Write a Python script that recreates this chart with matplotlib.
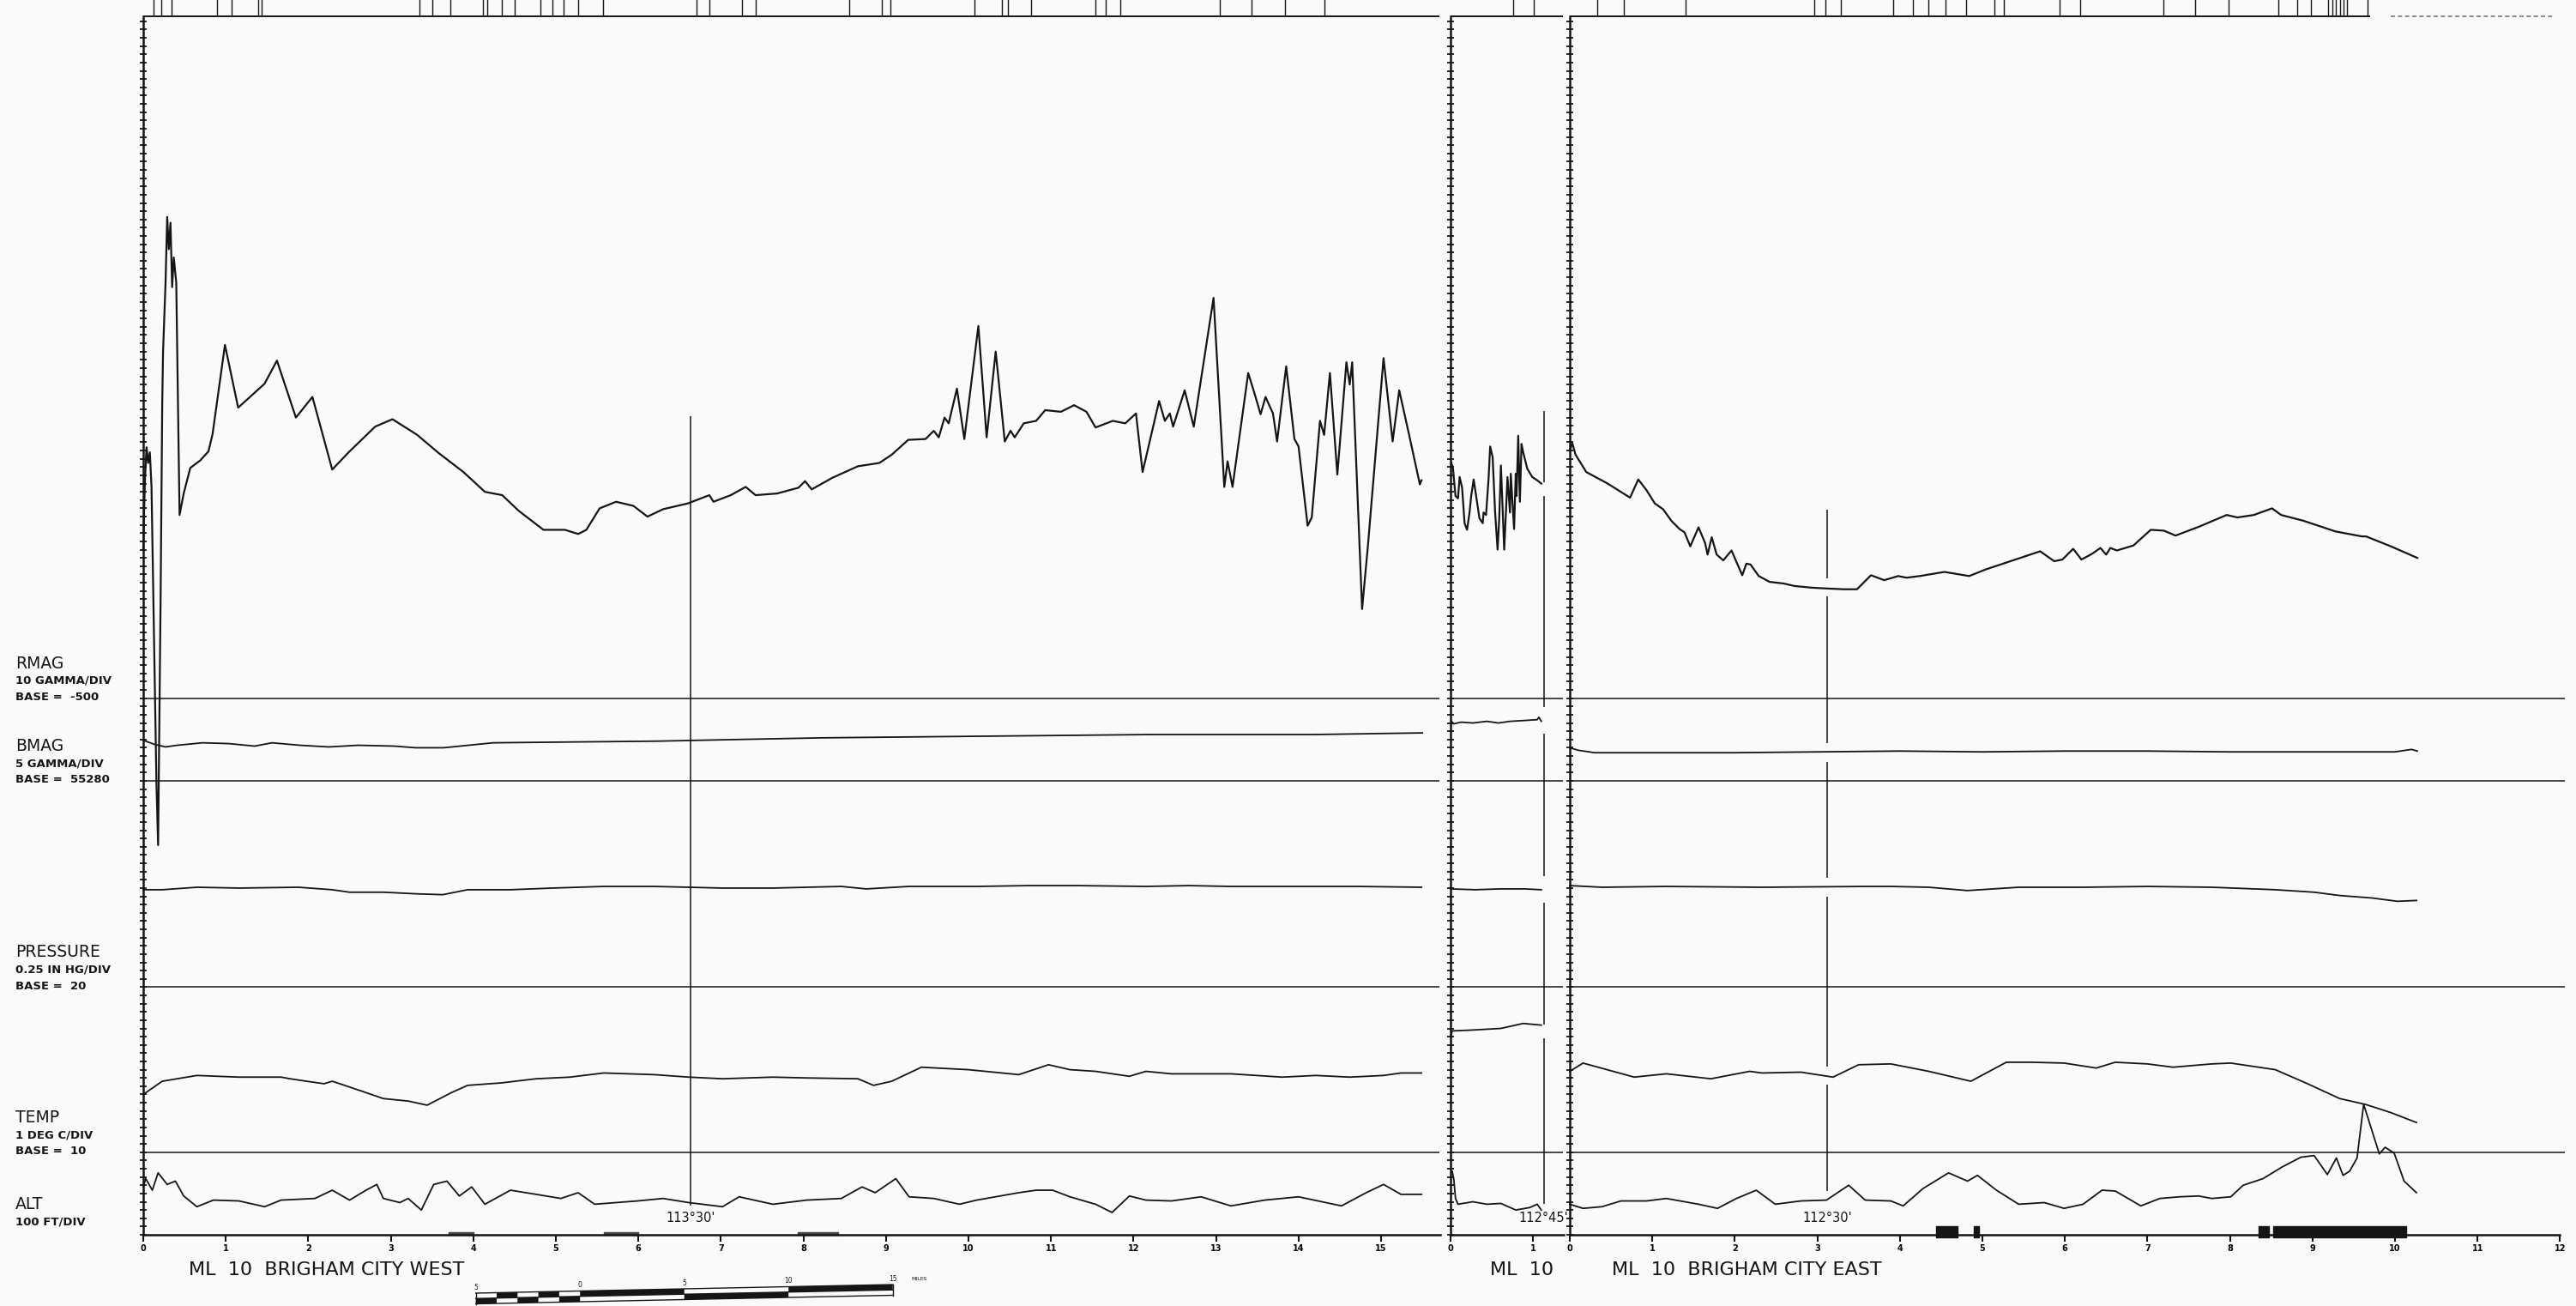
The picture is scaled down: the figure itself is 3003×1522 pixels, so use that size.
import matplotlib
matplotlib.use("Agg")
import matplotlib.pyplot as plt
import matplotlib.transforms as mtransforms
import numpy as np

# ---------------- data: miles along flight line, chart divisions above lane base ----------------
# west panel (BRIGHAM CITY WEST)
RMAG_W_MI = [0.00, 0.02, 0.04, 0.06, 0.08, 0.10, 0.16, 0.18, 0.21, 0.23, 0.24, 0.27, 0.29, 0.31, 0.33,
             0.35, 0.37, 0.40, 0.44, 0.49, 0.57, 0.69, 0.79, 0.84, 0.99, 1.15, 1.47, 1.62, 1.85, 2.05,
             2.29, 2.49, 2.81, 3.02, 3.32, 3.58, 3.88, 4.14, 4.35, 4.55, 4.85, 5.11, 5.27, 5.37, 5.53,
             5.73, 5.94, 6.11, 6.30, 6.60, 6.86, 6.91, 7.12, 7.30, 7.42, 7.68, 7.94, 8.02, 8.10, 8.35,
             8.66, 8.92, 9.07, 9.27, 9.48, 9.58, 9.64, 9.71, 9.76, 9.86, 9.95, 10.12, 10.22, 10.33, 10.44,
             10.51, 10.56, 10.67, 10.82, 10.93, 11.12, 11.28, 11.43, 11.54, 11.75, 11.90, 12.03, 12.11,
             12.31, 12.38, 12.44, 12.48, 12.62, 12.73, 12.97, 13.10, 13.14, 13.20, 13.39, 13.47, 13.54,
             13.60, 13.69, 13.74, 13.85, 13.95, 14.00, 14.11, 14.16, 14.26, 14.31, 14.38, 14.47, 14.58,
             14.62, 14.65, 14.77, 14.84, 15.03, 15.14, 15.22, 15.34, 15.47, 15.49]
RMAG_W = [18.1, 26.4, 30.4, 28.5, 29.8, 25.6, -10.4, -17.8, 11.8, 35.7, 42.0, 50.3, 58.3, 54.4, 57.6,
          49.8, 53.4, 50.3, 22.2, 24.8, 27.9, 28.8, 29.9, 32.0, 42.8, 35.2, 38.1, 40.9, 34.0, 36.5,
          27.7, 29.8, 32.9, 33.8, 31.9, 29.7, 27.4, 25.0, 24.6, 22.7, 20.4, 20.4, 19.9, 20.4, 23.0,
          23.8, 23.3, 22.0, 22.9, 23.6, 24.6, 23.8, 24.6, 25.6, 24.6, 24.8, 25.5, 26.3, 25.3, 26.7,
          28.1, 28.5, 29.5, 31.3, 31.4, 32.4, 31.6, 34.0, 33.3, 37.5, 31.4, 45.1, 31.6, 42.0, 31.1,
          32.4, 31.6, 33.3, 33.6, 34.9, 34.7, 35.5, 34.7, 32.8, 33.6, 33.3, 34.5, 27.4,
          36.0, 33.6, 34.5, 32.9, 37.3, 32.9, 48.5, 25.6, 28.7, 25.6, 39.4, 36.8, 34.4,
          36.5, 34.5, 31.1, 40.2, 31.4, 30.5, 20.9, 21.9, 33.6, 31.9, 39.4, 27.1, 40.7,
          38.0, 40.7, 10.8, 18.4, 41.2, 31.1, 37.3, 31.9, 25.9, 26.4]
BMAG_W_MI = [0.0, 0.14, 0.27, 0.41, 0.72, 1.04, 1.35, 1.56, 1.90, 2.25, 2.6, 3.04, 3.3, 3.64, 4.24,
             5.2, 6.23, 7.2, 8.22, 9.2, 10.2, 11.2, 12.2, 13.2, 14.19, 15.5]
BMAG_W = [4.9, 4.4, 4.1, 4.3, 4.6, 4.5, 4.2, 4.6, 4.3, 4.1, 4.3, 4.2, 4.0, 4.0, 4.6,
          4.7, 4.8, 5.0, 5.2, 5.3, 5.4, 5.5, 5.6, 5.6, 5.6, 5.8]
PRES_W_MI = [0.0, 0.23, 0.65, 1.16, 1.88, 2.29, 2.50, 2.91, 3.32, 3.63, 3.93, 4.45, 4.96, 5.58, 6.19,
             7.02, 7.63, 8.46, 8.76, 9.28, 10.1, 10.72, 11.33, 12.15, 12.67, 13.18, 14.21, 14.72, 15.49]
PRES_W = [11.8, 11.8, 12.1, 12.0, 12.1, 11.8, 11.5, 11.5, 11.3, 11.2, 11.8, 11.8, 12.0, 12.2, 12.2,
          12.0, 12.0, 12.2, 11.9, 12.2, 12.2, 12.3, 12.3, 12.2, 12.3, 12.2, 12.2, 12.2, 12.1]
TEMP_W_MI = [0.0, 0.23, 0.65, 1.16, 1.67, 1.78, 1.98, 2.19, 2.29, 2.50, 2.91, 3.21, 3.44, 3.73, 3.93,
             4.34, 4.76, 5.17, 5.58, 6.19, 6.61, 7.02, 7.63, 8.04, 8.66, 8.85, 9.07, 9.43, 10.0, 10.61,
             10.97, 11.23, 11.54, 11.95, 12.15, 12.46, 13.18, 13.80, 14.21, 14.62, 15.03, 15.24, 15.49]
TEMP_W = [7.0, 8.6, 9.3, 9.1, 9.1, 8.9, 8.6, 8.3, 8.6, 7.9, 6.5, 6.2, 5.7, 7.2, 8.1,
          8.4, 8.9, 9.1, 9.6, 9.4, 9.1, 8.9, 9.1, 9.0, 8.9, 8.1, 8.6, 10.3, 10.0, 9.4,
          10.6, 10.0, 9.8, 9.2, 9.8, 9.5, 9.5, 9.1, 9.3, 9.1, 9.3, 9.6, 9.6]
ALT_W_MI = [0.0, 0.03, 0.11, 0.18, 0.29, 0.39, 0.49, 0.65, 0.85, 1.16, 1.47, 1.67, 2.08, 2.29, 2.50,
            2.70, 2.83, 2.91, 3.11, 3.21, 3.37, 3.52, 3.68, 3.83, 3.98, 4.14, 4.45, 4.76, 5.06, 5.27,
            5.47, 5.99, 6.30, 6.61, 7.02, 7.22, 7.63, 8.04, 8.46, 8.71, 8.87, 9.12, 9.28, 9.58, 9.89,
            10.1, 10.61, 10.82, 11.02, 11.23, 11.54, 11.74, 11.95, 12.15, 12.46, 12.82, 13.18, 13.59,
            14.0, 14.52, 14.82, 15.03, 15.24, 15.49]
ALT_W = [5.8, 6.8, 5.4, 7.5, 6.1, 6.5, 4.7, 3.4, 4.2, 4.1, 3.4, 4.2, 4.4, 5.4, 4.2,
         5.4, 6.1, 4.4, 3.9, 4.4, 3.0, 6.1, 6.5, 4.7, 5.8, 3.7, 5.4, 4.9, 4.4, 5.1,
         3.7, 4.1, 4.4, 3.9, 3.4, 4.6, 3.7, 4.2, 4.4, 5.8, 5.1, 6.8, 4.6, 4.4, 3.7,
         4.2, 5.1, 5.4, 5.4, 4.6, 3.7, 2.7, 4.7, 4.2, 4.1, 4.6, 3.5, 4.2,
         4.6, 3.5, 5.1, 6.1, 4.9, 4.9]

# short centre panel
RMAG_C_MI = [0.01, 0.03, 0.06, 0.09, 0.11, 0.14, 0.17, 0.20, 0.23, 0.25, 0.28, 0.31, 0.35, 0.39, 0.40,
             0.43, 0.46, 0.48, 0.51, 0.54, 0.57, 0.59, 0.61, 0.63, 0.65, 0.68, 0.69, 0.72, 0.73, 0.75,
             0.77, 0.79, 0.80, 0.82, 0.84, 0.86, 0.88, 0.93, 0.99, 1.05, 1.10]
RMAG_C = [28.5, 27.8, 24.5, 24.2, 26.8, 25.5, 21.2, 20.4, 22.5, 24.5, 26.5, 24.5, 21.8, 21.2, 22.5,
          22.2, 26.5, 30.5, 29.2, 22.5, 18.0, 21.8, 28.2, 23.2, 18.0, 24.5, 26.8, 22.5, 27.2, 23.8,
          20.5, 27.2, 24.5, 31.8, 23.8, 30.8, 29.8, 27.8, 26.8, 26.4, 26.0]
BMAG_C_MI = [0.01, 0.04, 0.13, 0.27, 0.44, 0.58, 0.72, 0.89, 1.05, 1.07, 1.10]
BMAG_C = [7.2, 6.9, 7.1, 7.0, 7.2, 7.0, 7.2, 7.3, 7.4, 7.7, 7.2]
PRES_C_MI = [0.0, 0.3, 0.6, 0.9, 1.1]
PRES_C = [11.9, 11.8, 11.9, 11.9, 11.8]
TEMP_C_MI = [0.0, 0.02, 0.26, 0.61, 0.88, 1.10]
TEMP_C = [14.0, 14.7, 14.8, 15.0, 15.6, 15.4]
ALT_C_MI = [0.02, 0.04, 0.06, 0.09, 0.27, 0.44, 0.61, 0.79, 0.96, 1.05, 1.10]
ALT_C = [7.7, 6.7, 4.4, 3.7, 4.0, 3.7, 3.8, 3.0, 3.3, 3.7, 3.0]

# east panel (BRIGHAM CITY EAST)
RMAG_E_MI = [0.0, 0.03, 0.07, 0.20, 0.46, 0.73, 0.83, 0.93, 1.03, 1.13, 1.23, 1.33, 1.39, 1.46, 1.56,
             1.64, 1.67, 1.72, 1.78, 1.86, 1.96, 2.02, 2.09, 2.14, 2.19, 2.29, 2.42, 2.59, 2.72, 2.92,
             3.10, 3.32, 3.48, 3.65, 3.81, 3.98, 4.08, 4.24, 4.54, 4.84, 5.04, 5.37, 5.70, 5.87, 5.97,
             6.10, 6.20, 6.33, 6.43, 6.50, 6.55, 6.63, 6.83, 7.04, 7.20, 7.34, 7.63, 7.96, 8.09, 8.29,
             8.51, 8.62, 8.89, 9.28, 9.60, 9.65, 9.95, 10.27]
RMAG_E = [30.0, 30.9, 29.5, 27.4, 26.0, 24.3, 26.5, 25.2, 23.6, 22.9, 21.5, 20.5, 20.1, 18.4, 20.7,
          18.8, 17.4, 19.5, 17.4, 16.7, 17.9, 16.5, 14.9, 16.3, 16.2, 14.8, 14.1, 13.9, 13.6, 13.4,
          13.3, 13.2, 13.2, 14.9, 14.3, 14.8, 14.6, 14.8, 15.3, 14.8, 15.6, 16.7, 17.8, 16.6, 16.8,
          18.1, 16.8, 17.5, 18.2, 17.4, 18.2, 17.9, 18.5, 20.4, 20.3, 19.7, 20.8, 22.2, 21.9, 22.2,
          23.0, 22.2, 21.5, 20.2, 19.6, 19.6, 18.4, 17.0]
BMAG_E_MI = [0.0, 0.1, 0.3, 1.0, 2.0, 3.0, 4.0, 5.0, 6.0, 7.0, 8.0, 9.0, 10.0, 10.2, 10.27]
BMAG_E = [4.0, 3.7, 3.4, 3.4, 3.4, 3.5, 3.6, 3.5, 3.6, 3.6, 3.5, 3.5, 3.5, 3.8, 3.6]
PRES_E_MI = [0.0, 0.39, 1.17, 2.33, 3.58, 3.89, 4.35, 4.82, 5.44, 6.22, 7.0, 7.78, 8.55, 9.02, 9.33,
             9.72, 10.03, 10.26]
PRES_E = [12.3, 12.1, 12.2, 12.1, 12.2, 12.2, 12.1, 11.7, 12.1, 12.1, 12.2, 12.1, 11.8, 11.5, 11.1,
          10.8, 10.4, 10.5]
TEMP_E_MI = [0.0, 0.16, 0.78, 1.17, 1.71, 2.18, 2.33, 2.80, 3.19, 3.50, 3.89, 4.35, 4.86, 5.29, 5.60,
             5.99, 6.38, 6.61, 7.0, 7.31, 7.78, 8.01, 8.55, 8.94, 9.33, 9.64, 9.95, 10.26]
TEMP_E = [9.8, 10.8, 9.1, 9.5, 8.9, 9.8, 9.6, 9.7, 9.1, 10.6, 10.7, 9.8, 8.6, 10.9, 10.9,
          10.8, 10.2, 10.9, 10.7, 10.3, 10.7, 10.8, 10.0, 8.3, 6.5, 5.8, 4.8, 3.6]
ALT_E_MI = [0.0, 0.16, 0.39, 0.62, 0.93, 1.17, 1.56, 1.79, 2.02, 2.26, 2.49, 2.80, 3.11, 3.38, 3.58,
            3.89, 4.04, 4.28, 4.59, 4.82, 4.94, 5.17, 5.44, 5.75, 5.99, 6.22, 6.45, 6.61, 6.92, 7.15,
            7.39, 7.62, 7.78, 8.01, 8.16, 8.40, 8.63, 8.86, 9.02, 9.18, 9.29, 9.37, 9.45, 9.54, 9.62,
            9.81, 9.88, 9.99, 10.11, 10.26]
ALT_E = [3.7, 3.2, 3.4, 4.1, 4.1, 4.4, 3.7, 3.2, 4.4, 5.4, 3.7, 4.1, 4.2, 6.0, 4.2,
         4.1, 3.5, 5.6, 7.5, 6.5, 7.2, 5.4, 3.7, 3.9, 3.2, 3.7, 5.4, 5.3, 3.5, 4.4,
         4.6, 4.7, 4.4, 4.6, 6.0, 6.8, 8.2, 9.4, 9.6, 7.3, 9.3, 7.2, 7.7, 9.3, 15.8,
         9.8, 10.6, 9.9, 6.5, 5.1]

# fiducial event marks along the top line
EVENT_W = [0.12, 0.22, 0.34, 0.89, 1.07, 1.39, 1.43, 3.35, 3.50, 3.72, 4.12, 4.17, 4.35, 4.50, 4.81,
           4.96, 5.09, 5.27, 5.57, 6.70, 6.86, 7.26, 7.42, 8.55, 8.95, 9.05, 10.07, 10.41, 10.48,
           10.76, 11.54, 11.66, 11.84, 13.05, 13.43, 13.84, 14.31]
EVENT_C = [0.76, 1.01]
EVENT_E = [0.33, 0.66, 1.40, 2.96, 3.10, 3.28, 3.92, 4.16, 4.35, 4.55, 4.80, 5.15, 5.26, 5.94, 6.19,
           7.19, 7.58, 7.98, 8.59, 8.82, 8.98, 9.19, 9.24, 9.28, 9.33, 9.38, 9.42, 9.67]

# lanes
LANE_NAMES = ["RMAG", "BMAG", "PRESSURE", "TEMP", "ALT"]
LANE_SCALES = ["10 GAMMA/DIV", "5 GAMMA/DIV", "0.25 IN HG/DIV", "1 DEG C/DIV", "100 FT/DIV"]
LANE_BASES = ["BASE =  -500", "BASE =  55280", "BASE =  20", "BASE =  10", None]
LANE_DIV = [65, 55, 30, 10, 0]

# longitude lines (panel, mile, label, top, bottom, gaps)
LON_PANEL = [0, 1, 2]
LON_MILE = [6.63, 1.13, 3.12]
LON_LABEL = ["113°30'", "112°45'", "112°30'"]
LON_TOP = [99.2, 99.8, 87.8]
LON_BOT = [3.5, 3.7, 5.3]
LON_GAPS = [[], [(89.5, 91.2), (60.7, 63.9), (40.2, 43.5), (23.8, 25.5)],
            [(77.3, 79.5), (57.3, 59.6), (41.0, 43.2), (18.2, 20.4)]]

# bars on mileage axis
BARS_W = [(3.70, 0.30), (5.58, 0.42), (7.93, 0.49)]
BARS_E = [(4.44, 0.26), (4.90, 0.06), (8.35, 0.12), (8.52, 1.61)]

TITLES = ["ML  10  BRIGHAM CITY WEST", "ML  10", "ML  10  BRIGHAM CITY EAST"]

SCALE_MI = [-5, 0, 5, 10, 15]
SCALE_LABELS = ["5", "0", "5", "10", "15"]

# ---------------- layout ----------------
W, H = 3003, 1522
PX_MILE = 96.2
PX_DIV = 9.62
Y0 = 1439
TOP_DIV = 147.6
INK = "#151515"

def fx(px):
    return px / W

def fy(py):
    return 1 - py / H

fig = plt.figure(figsize=(W / 100, H / 100), dpi=100, facecolor="#fafafa")

# left px, right px of lane lines, right px of mileage axis, number of mile ticks
PANELS = [(167, 1678, 1679, 15), (1691, 1822, 1823, 1), (1830, 2990, 2984, 12)]
PAD = 10

panel_data = [
    [(RMAG_W_MI, RMAG_W), (BMAG_W_MI, BMAG_W), (PRES_W_MI, PRES_W), (TEMP_W_MI, TEMP_W), (ALT_W_MI, ALT_W)],
    [(RMAG_C_MI, RMAG_C), (BMAG_C_MI, BMAG_C), (PRES_C_MI, PRES_C), (TEMP_C_MI, TEMP_C), (ALT_C_MI, ALT_C)],
    [(RMAG_E_MI, RMAG_E), (BMAG_E_MI, BMAG_E), (PRES_E_MI, PRES_E), (TEMP_E_MI, TEMP_E), (ALT_E_MI, ALT_E)],
]
events = [EVENT_W, EVENT_C, EVENT_E]
# lane bases of the plotted traces (pressure trace sits above the pressure base)
trace_base = [65, 55, 30, 10, 0]

axes = []
for i, (left, right, axis_right, nt) in enumerate(PANELS):
    ax = fig.add_axes([fx(left - PAD), 0, (right - left + 2 * PAD) / W, 1])
    ax.set_xlim(-PAD / PX_MILE, (right - left + PAD) / PX_MILE)
    ax.set_ylim(-(H - Y0) / PX_DIV, Y0 / PX_DIV)
    ax.patch.set_visible(False)
    for s in ("top", "right"):
        ax.spines[s].set_visible(False)
    ax.spines["left"].set_position(("data", 0))
    ax.spines["left"].set_bounds(0, TOP_DIV)
    ax.spines["left"].set_linewidth(1.8)
    ax.spines["left"].set_color(INK)
    ax.spines["bottom"].set_position(("data", 0))
    ax.spines["bottom"].set_bounds(0, (axis_right - left) / PX_MILE)
    ax.spines["bottom"].set_linewidth(1.8)
    ax.spines["bottom"].set_color(INK)
    ax.set_yticks(np.arange(0, 148))
    ax.tick_params(axis="y", direction="inout", length=5.5, width=1.3, color=INK, labelleft=False)
    ax.set_xticks(np.arange(0, nt + 1))
    ax.set_xticklabels([str(k) for k in range(nt + 1)], fontsize=7, fontweight="bold")
    ax.tick_params(axis="x", direction="out", length=6, width=1.5, color=INK, pad=2)

    lane_end = (right - left) / PX_MILE
    ax.hlines(LANE_DIV[:4], 0, lane_end, color=INK, lw=1.1)

    # top line with event marks
    top_end = lane_end if i < 2 else 9.7
    ax.hlines(TOP_DIV, 0, top_end, color=INK, lw=1.4)
    if i == 2:
        ax.hlines(TOP_DIV, 9.95, 11.9, color="#777777", lw=1.2, linestyles=(0, (3, 2)))
    ax.vlines(events[i], TOP_DIV, TOP_DIV + 2.2, color=INK, lw=1.0)

    for k, (mi, val) in enumerate(panel_data[i]):
        lw = 1.6 if k == 0 else 1.3
        ax.plot(mi, np.array(val) + trace_base[k], color=INK, lw=lw,
                solid_joinstyle="round")
    axes.append(ax)

axes[0].broken_barh(BARS_W, (0, 0.35), color="#444444")
axes[2].broken_barh(BARS_E, (-0.3, 1.35), color=INK)

# longitude lines with breaks at the traces
for p, m, lab, top, bot, gaps in zip(LON_PANEL, LON_MILE, LON_LABEL, LON_TOP, LON_BOT, LON_GAPS):
    ax = axes[p]
    edges = [top]
    for lo, hi in gaps:
        edges += [hi, lo]
    edges.append(bot)
    for a, b in zip(edges[0::2], edges[1::2]):
        ax.vlines(m, b, a, color=INK, lw=1.1)
    ax.text(m, 2.0, lab, ha="center", va="center", fontsize=10.5, color=INK)

# lane labels at left
trans = mtransforms.blended_transform_factory(fig.transFigure, axes[0].transData)
for name, scale, base_txt, base in zip(LANE_NAMES, LANE_SCALES, LANE_BASES, LANE_DIV):
    up = 3.7 if base == 0 else 4.2
    ax0 = axes[0]
    ax0.text(fx(18), base + up, name, transform=trans, fontsize=13.5, va="center",
             ha="left", color=INK)
    ax0.text(fx(18), base + up - 2.1, scale, transform=trans, fontsize=9.5,
             fontweight="bold", va="center", ha="left", color=INK)
    if base_txt:
        ax0.text(fx(18), base + 0.1, base_txt, transform=trans, fontsize=9.5,
                 fontweight="bold", va="center", ha="left", color=INK)

# flight line titles
for txt, px in zip(TITLES, [220, 1737, 1879]):
    fig.text(fx(px), fy(1480), txt, fontsize=16, va="center", ha="left", color=INK)

# scale bar
SB_LEFT, SB_PX = 554.7, 24.3
sb = fig.add_axes([fx(540), 0, (1110 - 540) / W, (H - 1484) / H])
sb.set_xlim(-5 - (SB_LEFT - 540) / SB_PX, -5 + (1110 - SB_LEFT) / SB_PX)
sb.set_ylim(H, 1484)
sb.axis("off")

def bar_top(s):
    return 1507 - 0.5 * (s + 5)

BAR_H = 12.5
cells = [(-5, -4, 1), (-4, -3, 0), (-3, -2, 1), (-2, -1, 0), (-1, 0, 1), (0, 5, 0), (5, 10, 1), (10, 15, 0)]
for s0, s1, row in cells:
    t0, t1 = bar_top(s0) + row * BAR_H / 2, bar_top(s1) + row * BAR_H / 2
    sb.fill([s0, s1, s1, s0], [t0, t1, t1 + BAR_H / 2, t0 + BAR_H / 2], color=INK, lw=0)
xs = np.array([-5, 15])
for off in (0, BAR_H / 2, BAR_H):
    sb.plot(xs, [bar_top(-5) + off, bar_top(15) + off], color=INK, lw=1.0)
for s in (-5, 15):
    sb.plot([s, s], [bar_top(s), bar_top(s) + BAR_H], color=INK, lw=1.0)
for s, lab in zip(SCALE_MI, SCALE_LABELS):
    sb.text(s, bar_top(s) - 7, lab, ha="center", va="center", fontsize=5.5, color=INK)
sb.text(15.9, bar_top(15) - 7, "MILES", ha="left", va="center", fontsize=4.5, color=INK)

fig.savefig("out.png", dpi=100, facecolor=fig.get_facecolor())
